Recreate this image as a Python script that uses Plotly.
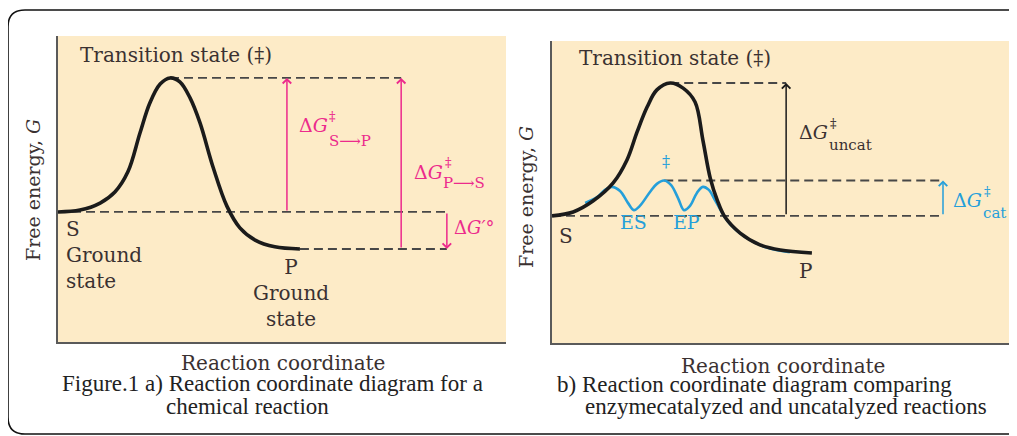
import plotly.graph_objects as go

# The page body has an 8px default margin, so the figure is laid out 8px in from the window edge.
OFF = 8
W, H = 1017 - OFF, 436 - OFF

# ---------------- data (reaction coordinate 0-100, free energy G 0-100) ----------------
# Panel a: uncatalysed reaction profile
a_x = [0, 4.9, 9.4, 12.7, 15.6, 18.3, 20.5, 22.8, 25.0, 27.2, 29.5, 31.7, 34.6, 37.7, 40.6, 44.0, 48.4, 54.0]
a_g = [42.5, 43.1, 45.4, 49.0, 55.6, 68.3, 78.1, 84.3, 86.3, 85.0, 79.7, 71.6, 57.2, 44.4, 37.3, 33.3, 31.1, 30.4]
a_levels = {"S": 42.5, "TS": 86.3, "P": 30.4}

# Panel b: uncatalysed (black) and enzyme-catalysed (blue) profiles
b_x = [0, 4.6, 8.9, 13.3, 16.3, 18.5, 20.7, 22.8, 25.7, 28.5, 31.1, 32.8, 34.4, 35.9, 37.6, 40.9, 45.2, 49.6, 56.5]
b_g = [42.1, 43.4, 47.0, 53.0, 60.6, 69.9, 78.2, 83.8, 86.1, 84.4, 79.8, 67.2, 54.6, 47.4, 41.7, 36.4, 32.5, 30.8, 29.8]
cat_x = [7.2, 9.8, 11.5, 13.0, 14.8, 16.5, 17.8, 19.1, 21.3, 22.8, 24.4, 25.9, 27.4, 28.7, 30.0, 31.5, 32.8, 34.1, 35.4, 37.0, 38.7, 42.0, 46.3, 51.7]
cat_g = [46.4, 48.3, 50.7, 51.7, 50.3, 46.4, 44.0, 45.4, 50.0, 52.7, 53.8, 52.3, 48.0, 44.0, 45.4, 49.7, 51.7, 50.7, 47.4, 43.1, 39.4, 35.1, 31.8, 30.1]
b_levels = {"S": 42.1, "TS": 86.1, "TScat": 53.8, "P": 29.8}

# positions of the free-energy difference arrows (reaction-coordinate units)
a_arrow_x = {"StoP": 51.1, "PtoS": 76.6, "dG0": 86.8}
b_arrow_x = {"uncat": 50.9, "cat": 85.0}

# ---------------- styles ----------------
BEIGE = "#FDEBC7"
INK = "#1b1b1b"
DASH = "#474747"
MAG = "#EC2A8C"
BLUE = "#259FDA"
TXT = "#3a3131"
LF = "DejaVu Serif"
CF = "Liberation Serif"

fig = go.Figure()

def dashed(x0, x1, g, xa, ya):
    fig.add_trace(go.Scatter(x=[x0, x1], y=[g, g], mode="lines", xaxis=xa, yaxis=ya,
                             line=dict(color=DASH, width=1.8, dash="9px,5px"),
                             hoverinfo="skip", showlegend=False))

# panel a dashed guides
dashed(a_x[a_g.index(max(a_g))], a_arrow_x["PtoS"], a_levels["TS"], "x", "y")
dashed(0, a_arrow_x["dG0"], a_levels["S"], "x", "y")
dashed(a_x[-1], a_arrow_x["dG0"], a_levels["P"], "x", "y")

# panel b dashed guides
dashed(b_x[b_g.index(max(b_g))], b_arrow_x["uncat"], b_levels["TS"], "x2", "y2")
dashed(cat_x[cat_g.index(max(cat_g))], b_arrow_x["cat"], b_levels["TScat"], "x2", "y2")
dashed(0, b_arrow_x["cat"], b_levels["S"], "x2", "y2")

# curves
fig.add_trace(go.Scatter(x=a_x, y=a_g, mode="lines", xaxis="x", yaxis="y",
                         line=dict(color=INK, width=3.6, shape="spline", smoothing=1.0),
                         hoverinfo="skip", showlegend=False))
fig.add_trace(go.Scatter(x=cat_x, y=cat_g, mode="lines", xaxis="x2", yaxis="y2",
                         line=dict(color=BLUE, width=2.6, shape="spline", smoothing=1.0),
                         hoverinfo="skip", showlegend=False))
fig.add_trace(go.Scatter(x=b_x, y=b_g, mode="lines", xaxis="x2", yaxis="y2",
                         line=dict(color=INK, width=3.6, shape="spline", smoothing=1.0),
                         hoverinfo="skip", showlegend=False))

ann = []

def arrow(x, g_from, g_to, color, xr, yr):
    ann.append(dict(x=x, y=g_to, ax=x, ay=g_from, xref=xr, yref=yr, axref=xr, ayref=yr,
                    text="", showarrow=True, arrowhead=4, arrowsize=1.1, arrowwidth=1.5,
                    arrowcolor=color, standoff=0, startstandoff=0))

arrow(a_arrow_x["StoP"], a_levels["S"], a_levels["TS"], MAG, "x", "y")
arrow(a_arrow_x["PtoS"], a_levels["P"], a_levels["TS"], MAG, "x", "y")
arrow(a_arrow_x["dG0"], a_levels["S"], a_levels["P"], MAG, "x", "y")
arrow(b_arrow_x["uncat"], b_levels["S"], b_levels["TS"], INK, "x2", "y2")
arrow(b_arrow_x["cat"], b_levels["S"], b_levels["TScat"], BLUE, "x2", "y2")

def txt(x, y, s, size=19, color=TXT, xr="x", yr="y", xanchor="left", yanchor="middle",
        family=LF, align="left"):
    ann.append(dict(x=x, y=y, xref=xr, yref=yr, text=s, showarrow=False,
                    xanchor=xanchor, yanchor=yanchor, align=align,
                    font=dict(family=family, size=size, color=color)))

# panel a labels
txt(4.5, 93.8, "Transition state (‡)", size=20)
txt(1.3, 28.4, "S<br>Ground<br>state", size=20)
txt(52.0, 16.0, "P<br>Ground<br>state", size=20, xanchor="center", align="center")
txt(53.4, 70.9, "Δ<i>G</i>", size=19, color=MAG)
txt(61.2, 73.8, "‡", size=13, color=MAG, xanchor="center")
txt(60.0, 65.8, "S⟶P", size=15, color=MAG)
txt(79.0, 55.6, "Δ<i>G</i>", size=19, color=MAG)
txt(87.1, 58.6, "‡", size=13, color=MAG, xanchor="center")
txt(85.6, 51.8, "P⟶S", size=15, color=MAG)
txt(88.0, 37.3, "Δ<i>G′</i>°", size=18, color=MAG)

# panel b labels
txt(5.5, 94.4, "Transition state (‡)", size=20, xr="x2", yr="y2")
txt(1.1, 35.4, "S", size=20, xr="x2", yr="y2")
txt(55.0, 23.8, "P", size=20, xr="x2", yr="y2", xanchor="center")
txt(17.8, 40.1, "ES", size=19, color=BLUE, xr="x2", yr="y2", xanchor="center")
txt(29.3, 40.1, "EP", size=19, color=BLUE, xr="x2", yr="y2", xanchor="center")
txt(24.8, 60.0, "‡", size=16, color=BLUE, xr="x2", yr="y2", xanchor="center")
txt(53.3, 69.9, "Δ<i>G</i>", size=19, xr="x2", yr="y2")
txt(61.3, 72.6, "‡", size=13, xr="x2", yr="y2", xanchor="center")
txt(59.8, 65.4, "uncat", size=15, xr="x2", yr="y2")
txt(86.8, 47.4, "Δ<i>G</i>", size=19, color=BLUE, xr="x2", yr="y2")
txt(94.7, 50.2, "‡", size=13, color=BLUE, xr="x2", yr="y2", xanchor="center")
txt(93.3, 43.2, "cat", size=15, color=BLUE, xr="x2", yr="y2")

# axis titles and captions (paper coordinates, given in window pixels)
def px(xp, yp):
    return (xp - OFF) / W, 1 - (yp - OFF) / H

for (cx, cy) in [(283, 363), (783, 366)]:
    x_, y_ = px(cx, cy)
    txt(x_, y_, "Reaction coordinate", size=20, xr="paper", yr="paper", xanchor="center")
for (cx, cy) in [(33, 190), (526, 197)]:
    x_, y_ = px(cx, cy)
    ann.append(dict(x=x_, y=y_, xref="paper", yref="paper", text="Free energy, <i>G</i>",
                    showarrow=False, textangle=-90, xanchor="center", yanchor="middle",
                    font=dict(family=LF, size=19, color=TXT)))

CAP = 23
x_, y_ = px(272, 383)
txt(x_, y_, "Figure.1 a) Reaction coordinate diagram for a", size=CAP, color="#222",
    xr="paper", yr="paper", xanchor="center", family=CF)
x_, y_ = px(247, 406)
txt(x_, y_, "chemical reaction", size=CAP, color="#222",
    xr="paper", yr="paper", xanchor="center", family=CF)
x_, y_ = px(754, 384)
txt(x_, y_, "b) Reaction coordinate diagram comparing", size=CAP, color="#222",
    xr="paper", yr="paper", xanchor="center", family=CF)
x_, y_ = px(786, 406)
txt(x_, y_, "enzymecatalyzed and uncatalyzed reactions", size=CAP, color="#222",
    xr="paper", yr="paper", xanchor="center", family=CF)

# rounded outer frame
L, T, R, B, r = 8, 10, 1026, 434, 17
def P(xp, yp):
    a, b = px(xp, yp)
    return f"{a:.5f},{b:.5f}"
frame = (f"M {P(L + r, T)} L {P(R - r, T)} Q {P(R, T)} {P(R, T + r)} "
         f"L {P(R, B - r)} Q {P(R, B)} {P(R - r, B)} L {P(L + r, B)} "
         f"Q {P(L, B)} {P(L, B - r)} L {P(L, T + r)} Q {P(L, T)} {P(L + r, T)} Z")

axis_common = dict(range=[0, 100], showgrid=False, zeroline=False, showticklabels=False,
                   ticks="", showline=True, linecolor="#5a5a5a", linewidth=2, fixedrange=True)

def dom_x(p0, p1):
    return [(p0 - OFF) / W, (p1 - OFF) / W]

def dom_y(top, bottom):
    return [1 - (bottom - OFF) / H, 1 - (top - OFF) / H]

fig.update_layout(
    width=W, height=H, margin=dict(l=0, r=0, t=0, b=0),
    paper_bgcolor="white", plot_bgcolor=BEIGE, showlegend=False,
    xaxis=dict(domain=dom_x(58, 506), anchor="y", **axis_common),
    yaxis=dict(domain=dom_y(36, 342), anchor="x", **axis_common),
    xaxis2=dict(domain=dom_x(552, 1012), anchor="y2", **axis_common),
    yaxis2=dict(domain=dom_y(41, 343), anchor="x2", **axis_common),
    annotations=ann,
    shapes=[dict(type="path", path=frame, xref="paper", yref="paper",
                 line=dict(color="#111", width=1.6), fillcolor="rgba(0,0,0,0)", layer="above")],
)

fig.write_html("out.html")
